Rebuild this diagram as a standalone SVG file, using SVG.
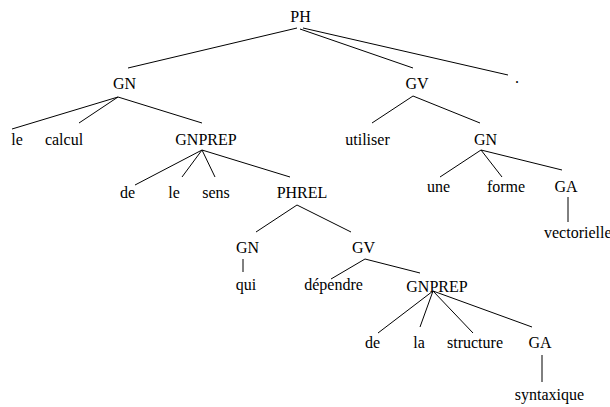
<svg xmlns="http://www.w3.org/2000/svg" width="610" height="407" viewBox="0 0 610 407">
<style>
.t text{font-size:16px;fill:#000;text-anchor:middle}
.e{stroke:#000;stroke-width:1;fill:none}
</style>
<rect width="610" height="407" fill="#fff"/>
<g id="connectors" class="e">
<line x1="297" y1="28" x2="128" y2="68"/>
<line x1="300" y1="29" x2="413" y2="68"/>
<line x1="303" y1="28" x2="508" y2="75"/>
<line x1="118" y1="97" x2="12" y2="129"/>
<line x1="118" y1="97" x2="79" y2="123"/>
<line x1="118" y1="97" x2="202" y2="123"/>
<line x1="202" y1="150" x2="135" y2="185"/>
<line x1="202" y1="150" x2="182" y2="177"/>
<line x1="202" y1="150" x2="215" y2="177"/>
<line x1="202" y1="150" x2="290" y2="177"/>
<line x1="413" y1="96" x2="372" y2="123"/>
<line x1="413" y1="96" x2="480" y2="123"/>
<line x1="481" y1="150" x2="440" y2="177"/>
<line x1="481" y1="150" x2="502" y2="177"/>
<line x1="481" y1="150" x2="562" y2="170"/>
<line x1="568" y1="197" x2="568" y2="222"/>
<line x1="297" y1="205" x2="256" y2="232"/>
<line x1="297" y1="205" x2="351" y2="232"/>
<line x1="243" y1="259" x2="243" y2="272"/>
<line x1="365" y1="259" x2="331" y2="279"/>
<line x1="365" y1="259" x2="420" y2="273"/>
<line x1="433" y1="291" x2="378" y2="333"/>
<line x1="433" y1="291" x2="420" y2="327"/>
<line x1="433" y1="291" x2="473" y2="333"/>
<line x1="433" y1="291" x2="532" y2="327"/>
<line x1="542" y1="355" x2="542" y2="382"/>
</g>
<g class="t" font-family="'Liberation Serif', 'DejaVu Serif', serif">
<g id="n-PH"><text x="300.5" y="21.5">PH</text></g>
<g id="n-GN1"><text x="124.5" y="89">GN</text></g>
<g id="n-GV1"><text x="417" y="89">GV</text></g>
<g id="n-dot"><text x="517" y="83">.</text></g>
<g id="n-le1"><text x="17" y="144.5">le</text></g>
<g id="n-calcul"><text x="64" y="144.5">calcul</text></g>
<g id="n-GNPREP1"><text x="206" y="145">GNPREP</text></g>
<g id="n-utiliser"><text x="367.5" y="145">utiliser</text></g>
<g id="n-GN2"><text x="485.5" y="145">GN</text></g>
<g id="n-de1"><text x="127.5" y="198">de</text></g>
<g id="n-le2"><text x="174" y="198">le</text></g>
<g id="n-sens"><text x="216" y="198">sens</text></g>
<g id="n-PHREL"><text x="302" y="198">PHREL</text></g>
<g id="n-une"><text x="438.5" y="192">une</text></g>
<g id="n-forme"><text x="506" y="192">forme</text></g>
<g id="n-GA1"><text x="566" y="192">GA</text></g>
<g id="n-vectorielle"><text x="544" y="238" style="text-anchor:start">vectorielle</text></g>
<g id="n-GN3"><text x="247.5" y="253">GN</text></g>
<g id="n-GV2"><text x="363.5" y="253">GV</text></g>
<g id="n-qui"><text x="246" y="290">qui</text></g>
<g id="n-dependre"><text x="333.5" y="290">dépendre</text></g>
<g id="n-GNPREP2"><text x="437" y="292">GNPREP</text></g>
<g id="n-de2"><text x="372.5" y="348">de</text></g>
<g id="n-la"><text x="419" y="348">la</text></g>
<g id="n-structure"><text x="475" y="348">structure</text></g>
<g id="n-GA2"><text x="540" y="348">GA</text></g>
<g id="n-syntaxique"><text x="549.5" y="400">syntaxique</text></g>
</g>
</svg>
